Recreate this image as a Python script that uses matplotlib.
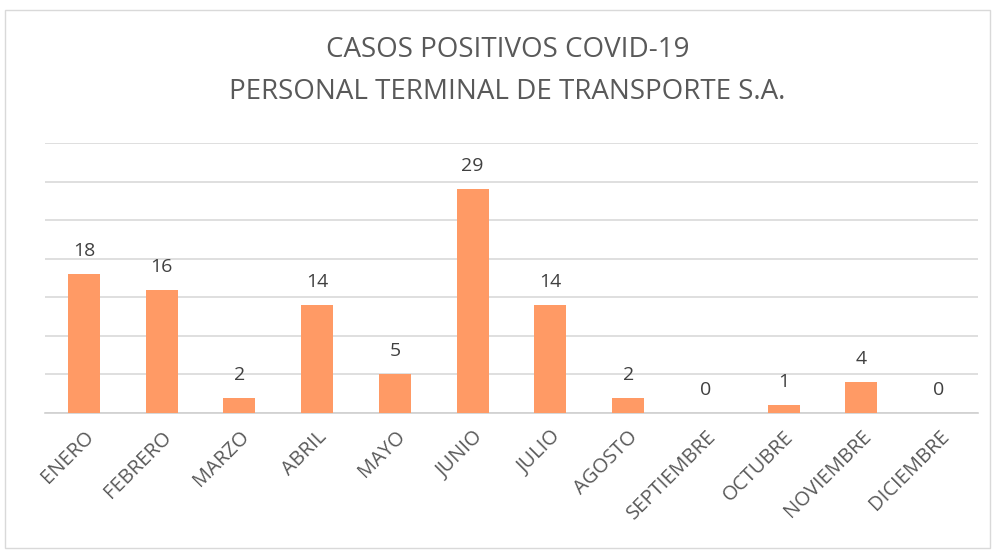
import matplotlib.pyplot as plt
from matplotlib.patches import Rectangle

# data
meses = ['ENERO', 'FEBRERO', 'MARZO', 'ABRIL', 'MAYO', 'JUNIO', 'JULIO',
         'AGOSTO', 'SEPTIEMBRE', 'OCTUBRE', 'NOVIEMBRE', 'DICIEMBRE']
casos = [18, 16, 2, 14, 5, 29, 14, 2, 0, 1, 4, 0]

plt.rcParams['font.family'] = ['Open Sans', 'DejaVu Sans']
texto = '#595959'

fig = plt.figure(figsize=(9.97, 5.5), dpi=100)
# chart frame
fig.patches.append(Rectangle((5/997, 2/550), 985/997, 538/550, transform=fig.transFigure,
                             fill=False, edgecolor='#d9d9d9', linewidth=1))

ax = fig.add_axes([45/997, (550-413)/550, (978-45)/997, (413-143)/550])
x = range(len(meses))
ax.bar(x, casos, width=0.41, color='#FF9A65', zorder=3)
for i, v in enumerate(casos):
    ax.annotate(str(v), (i, v), xytext=(0, 13), textcoords='offset points',
                ha='center', va='baseline', fontsize=14, color='#404040')

ax.set_xlim(-0.5, len(meses) - 0.5)
ax.set_ylim(0, 35)
ax.set_yticks(range(0, 36, 5))
ax.set_yticklabels([])
ax.tick_params(axis='y', length=0)
ax.tick_params(axis='x', length=0, pad=10)
ax.grid(axis='y', color='#d9d9d9', linewidth=1.2, zorder=0)
for s in ['top', 'right', 'left']:
    ax.spines[s].set_visible(False)
ax.spines['bottom'].set_color('#d0d0d0')
ax.spines['bottom'].set_linewidth(1.2)

ax.set_xticks(list(x))
ax.set_xticklabels(meses, rotation=45, ha='right', rotation_mode='anchor',
                   fontsize=14.5, color=texto)

fig.text(0.509, 1 - 50/550, 'CASOS POSITIVOS COVID-19', ha='center', va='center',
         fontsize=20, color=texto)
fig.text(0.509, 1 - 92/550, 'PERSONAL TERMINAL DE TRANSPORTE S.A.', ha='center',
         va='center', fontsize=20, color=texto)

fig.savefig('out.png', dpi=100)
